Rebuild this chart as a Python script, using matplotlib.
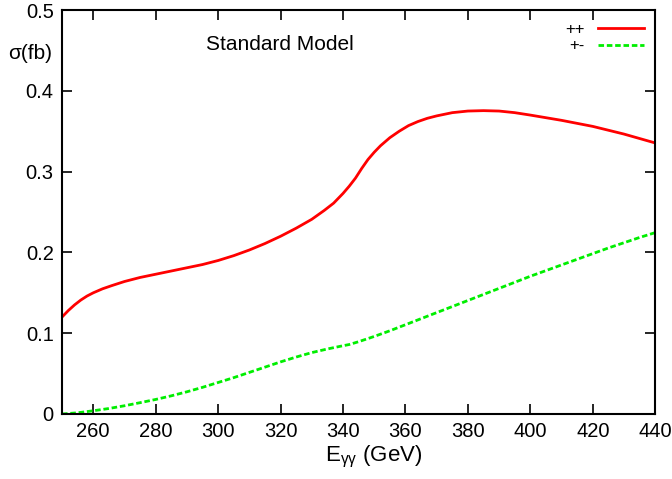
import numpy as np
import matplotlib.pyplot as plt

plt.rcParams['font.family'] = ['Liberation Sans', 'DejaVu Sans']
plt.rcParams['mathtext.fontset'] = 'custom'
plt.rcParams['mathtext.rm'] = 'Liberation Sans'

# values
E_pp = [250, 252, 254, 256, 258, 260, 263, 266, 270, 275, 280, 285, 290, 295, 300,
        305, 310, 315, 320, 325, 330, 334, 337, 340, 342, 344, 346, 348, 350, 352,
        355, 358, 361, 364, 367, 370, 375, 380, 385, 390, 395, 400, 410, 420, 430, 440]
sig_pp = [0.120, 0.128, 0.135, 0.141, 0.146, 0.150, 0.155, 0.159, 0.164, 0.169, 0.173,
          0.177, 0.181, 0.185, 0.190, 0.196, 0.203, 0.211, 0.220, 0.230, 0.241, 0.252,
          0.261, 0.273, 0.282, 0.292, 0.304, 0.315, 0.324, 0.332, 0.342, 0.350, 0.357,
          0.362, 0.366, 0.369, 0.373, 0.375, 0.3755, 0.375, 0.373, 0.370, 0.3635,
          0.356, 0.3465, 0.3355]

E_pm = [250, 255, 260, 265, 270, 275, 280, 285, 290, 295, 300, 305, 310, 315, 320,
        325, 330, 335, 340, 342, 345, 350, 355, 360, 365, 370, 375, 380, 385, 390,
        395, 400, 405, 410, 415, 420, 425, 430, 435, 440]
sig_pm = [0.000, 0.0015, 0.004, 0.0068, 0.0102, 0.0140, 0.0180, 0.0225, 0.0275, 0.0330,
          0.0390, 0.0450, 0.0515, 0.0580, 0.0645, 0.0705, 0.0760, 0.0805, 0.0845, 0.0860,
          0.0895, 0.0960, 0.1030, 0.1105, 0.1180, 0.1255, 0.1330, 0.1405, 0.1480, 0.1555,
          0.1630, 0.1705, 0.1775, 0.1845, 0.1915, 0.1985, 0.2055, 0.2120, 0.2185, 0.2245]

xticks = [260, 280, 300, 320, 340, 360, 380, 400, 420, 440]
yticks = [0, 0.1, 0.2, 0.3, 0.4, 0.5]
ytick_labels = ['0', '0.1', '0.2', '0.3', '0.4', '0.5']

fig = plt.figure(figsize=(6.72, 4.79), dpi=100)
ax = fig.add_axes([0.0923, 0.1357, 0.8827, 0.8433])

ax.plot(E_pp, sig_pp, color='#ff0000', linewidth=2, label='++')
ax.plot(E_pm, sig_pm, color='#00ee00', linewidth=2, linestyle=(0, (2, 1)), label='+-')

ax.set_xlim(250, 440)
ax.set_ylim(0, 0.5)
ax.set_xticks(xticks)
ax.set_yticks(yticks)
ax.set_yticklabels(ytick_labels)
ax.tick_params(direction='in', top=True, right=True, length=7, width=1.2,
               labelsize=14.5, pad=6)
for s in ax.spines.values():
    s.set_linewidth(1.5)

ax.set_xlabel(r'E$_{\mathregular{γγ}}$ (GeV)', fontsize=16)
ax.xaxis.set_label_coords(0.526, -0.075, transform=ax.transAxes)
fig.text(0.045, 0.889, 'σ(fb)', fontsize=15, ha='center', va='center')
ax.text(296, 0.457, 'Standard Model', fontsize=15, va='center')

ax.legend(loc='upper right', frameon=False, markerfirst=False, fontsize=12,
          handlelength=2.75, labelspacing=0.1, borderaxespad=0.3, handletextpad=0.8)

fig.savefig('out.png', dpi=100)
